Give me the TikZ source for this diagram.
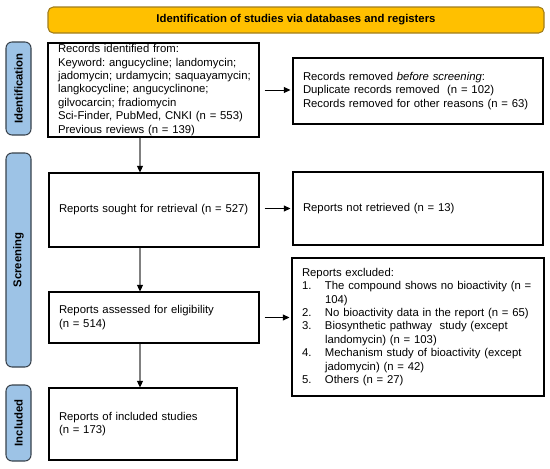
\documentclass[tikz,border=0pt]{standalone}
\usepackage{fontspec}
\setmainfont{Liberation Sans}
\usetikzlibrary{arrows.meta}
\definecolor{hdrfill}{HTML}{FFC000}
\definecolor{hdrdraw}{HTML}{A07D1C}
\definecolor{labfill}{HTML}{9DC3E6}
\definecolor{labdraw}{HTML}{38424C}
\definecolor{stemgray}{HTML}{808080}
\tikzset{
  box/.style={draw=black, line width=0.8pt, rectangle, align=left, inner xsep=7.5pt, inner ysep=0pt,
    font=\frenchspacing\fontsize{8.5}{10.1}\selectfont},
  lab/.style={draw=labdraw, fill=labfill, line width=0.8pt, rounded corners=4.5pt, rotate=90,
    font=\bfseries\fontsize{8.5}{10}\selectfont, minimum height=18.75pt, inner sep=0pt},
  hdr/.style={draw=hdrdraw, fill=hdrfill, line width=0.8pt, rounded corners=4pt,
    font=\bfseries\fontsize{8.5}{10}\selectfont, inner sep=0pt},
  varrow/.style={draw=stemgray, line width=0.9pt, -{Triangle[length=5pt,width=4.5pt,color=black]}},
  harrow/.style={draw=black, line width=0.6pt, -{Triangle[length=5pt,width=4.5pt,color=black]}},
}
\newcommand{\itm}[1]{\makebox[17.25pt][l]{#1}}
\begin{document}
\frenchspacing
\begin{tikzpicture}[x=0.75pt,y=-0.75pt]
\useasboundingbox (0,0) rectangle (550,468);
% header
\node[hdr, minimum width=372pt, minimum height=19.5pt] (hdr) at (296,20) {Identification of studies via databases and registers};
% phase labels
\node[lab, minimum width=69.75pt] (lid) at (18.5,88.5) {Identification};
\node[lab, minimum width=160.5pt] (lsc) at (18.5,260) {Screening};
\node[lab, minimum width=57pt] (lin) at (18.5,423) {Included};
% boxes
\node[box, text width=143.25pt, minimum height=70.5pt] (box1) at (153.5,90) {Records identified from:\\
\mbox{Keyword: angucycline; landomycin;}\\
\mbox{jadomycin; urdamycin; saquayamycin;}\\
\mbox{langkocycline; angucyclinone;}\\
\mbox{gilvocarcin; fradiomycin}\\
\mbox{Sci-Finder, PubMed, CNKI (n = 553)}\\
Previous reviews (n = 139)};
\node[box, text width=172.5pt, minimum height=49.5pt] (rem1) at (418,91) {Records removed \textit{before screening}:\\
Duplicate records removed\ \ (n = 102)\\
\mbox{Records removed for other reasons (n = 63)}};
\node[box, text width=142.5pt, minimum height=55.5pt] (box2) at (154,210) {Reports sought for retrieval (n = 527)};
\node[box, text width=172.5pt, minimum height=54.75pt] (rem2) at (418,208.5) {Reports not retrieved (n = 13)};
\node[box, text width=142.5pt, minimum height=38.25pt] (box3) at (154,317.5) {Reports assessed for eligibility\\(n = 514)};
\node[box, text width=174pt, minimum height=103.5pt] (excl) at (418,327) {Reports excluded:\\
\mbox{\itm{1.}The compound shows no bioactivity (n =}\\
\itm{}104)\\
\mbox{\itm{2.}No bioactivity data in the report (n = 65)}\\
\mbox{\itm{3.}Biosynthetic pathway\ \ study (except}\\
\itm{}landomycin) (n = 103)\\
\mbox{\itm{4.}Mechanism study of bioactivity (except}\\
\itm{}jadomycin) (n = 42)\\
\itm{5.}Others (n = 27)};
\node[box, text width=126pt, minimum height=54pt] (box4) at (143,424) {Reports of included studies\\(n = 173)};
% connectors
\coordinate (stem) at (140,0);
\draw[varrow] (stem |- box1.south) -- (stem |- box2.north);
\draw[varrow] (stem |- box2.south) -- (stem |- box3.north);
\draw[varrow] (stem |- box3.south) -- (stem |- box4.north);
\draw[harrow] ([xshift=3.75pt]box1.east) -- ([xshift=-1.5pt]box1.east -| rem1.west);
\draw[harrow] ([xshift=3.75pt]rem2.west -| box2.east) -- ([xshift=-1.5pt]rem2.west);
\draw[harrow] ([xshift=3.75pt]box3.east) -- ([xshift=-1.5pt]box3.east -| excl.west);
\end{tikzpicture}
\end{document}
